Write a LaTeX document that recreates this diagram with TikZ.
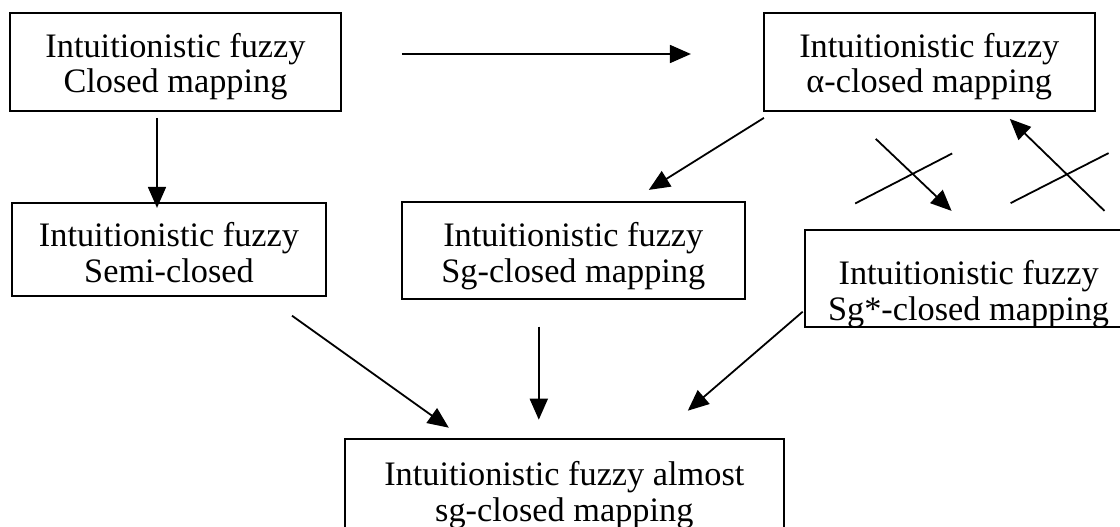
\documentclass[tikz,border=0pt]{standalone}
\usepackage{fontspec}
\setmainfont{Liberation Serif}
\usetikzlibrary{arrows.meta,positioning,calc}

\begin{document}
\begin{tikzpicture}[x=1pt, y=-1pt,
  mapbox/.style={draw, line width=1.8pt, align=center, inner sep=0pt,
                 font=\fontsize{34.3}{35.5}\selectfont, minimum height=97pt, text depth=0pt},
  arr/.style={-{Triangle[length=21pt, width=18pt]}, line width=1.8pt},
  cross/.style={line width=1.8pt},
  node distance=90pt and 74pt
]
\clip (0,0) rectangle (1120,527);

%% Top row
\node[mapbox, minimum width=331pt, minimum height=98pt, text height=61pt]
  (closed) at (175.5,62) {Intuitionistic fuzzy\\Closed mapping};
\node[mapbox, minimum width=331pt, minimum height=98pt, text height=61pt,
  right=421pt of closed] (alpha) {Intuitionistic fuzzy\\α-closed mapping};

%% Middle row
\node[mapbox, minimum width=314pt, minimum height=93pt, text height=66pt,
  below=90pt of closed, xshift=-6.5pt] (semi) {Intuitionistic fuzzy\\Semi-closed};
\node[mapbox, minimum width=343pt, text height=64pt,
  right=74pt of semi, yshift=-1pt] (sg) {Intuitionistic fuzzy\\Sg-closed mapping};
\node[mapbox, minimum width=328pt, text height=84pt,
  right=58pt of sg, yshift=-28pt] (sgstar) {Intuitionistic fuzzy\\Sg*-closed mapping};

%% Bottom
\node[mapbox, minimum width=439pt, minimum height=100pt, text height=65pt,
  below=138pt of sg, xshift=-9pt] (almost) {Intuitionistic fuzzy almost\\sg-closed mapping};

%% Arrows
\draw[arr] ($(closed.east)+(60,-8)$) -- ($(alpha.west)+(-72,-8)$);
\draw[arr] ($(closed.south)+(-18.5,6)$) -- ($(semi.north)+(-12,6)$);
\draw[arr] ($(alpha.south west)+(1,6)$) -- ($(sg.north)+(75.5,-11)$);

%% Crossed arrows between alpha and Sg*
\draw[arr] ($(alpha.south)+(-53.5,27)$) -- coordinate[pos=0.48] (x1) ($(sgstar.north)+(-17,-18)$);
\draw[cross] ($(x1)+(-57,30)$) -- ($(x1)+(40,-20)$);
\draw[arr] ($(sgstar.north east)+(-29,-18)$) -- coordinate[pos=0.4] (x2) ($(alpha.south)+(80.5,7)$);
\draw[cross] ($(x2)+(-56,29)$) -- ($(x2)+(42,-21)$);

%% Into the bottom box
\draw[arr] ($(semi.south)+(123,19)$) -- ($(almost.north)+(-115.5,-10)$);
\draw[arr] ($(sg.south)+(-34.5,27)$) -- ($(almost.north)+(-25.5,-18)$);
\draw[arr] ($(sgstar.south west)+(-1,-16)$) -- ($(almost.north)+(123.5,-27)$);

\end{tikzpicture}
\end{document}
